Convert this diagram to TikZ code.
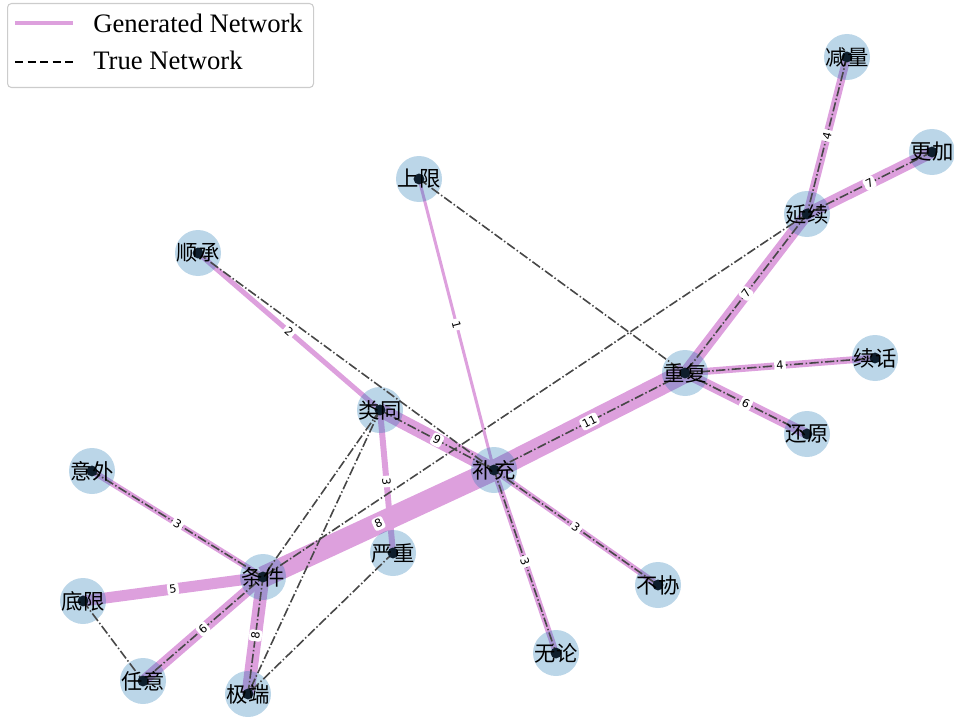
\documentclass[tikz,border=0pt]{standalone}
\usepackage{fontspec}
\setmainfont{Liberation Serif}
\newfontfamily\cjkfont{Noto Sans CJK SC}
\newfontfamily\labfont{DejaVu Sans}
\usepackage{xcolor}

\definecolor{genpink}{RGB}{221,160,221}
\definecolor{nodeblue}{RGB}{31,119,180}
\definecolor{dotnavy}{RGB}{14,30,44}

\tikzset{
  gen/.style={genpink},
  truenet/.style={black!72, line width=1.2pt, dash pattern=on 7pt off 1.8pt on 1.1pt off 1.8pt},
  bubble/.style={circle, minimum size=34.5pt, inner sep=0pt, fill=nodeblue, fill opacity=0.3},
  word/.style={font=\cjkfont\fontsize{16}{18}\selectfont, inner sep=0pt},
  wlabel/.style={fill=white, rounded corners=2pt, inner sep=1.6pt, sloped,
                 font=\labfont\fontsize{8.5}{9}\selectfont}
}

% generated network: from/to/width/weight
\newcommand\genlist{jianliang/yanxu/6pt/4, gengjia/yanxu/9pt/7, yanxu/chongfu/9pt/7,
  chongfu/xuhua/5.25pt/4, chongfu/huanyuan/7.5pt/6, chongfu/buchong/15pt/11,
  shangxian/buchong/2.25pt/1, shuncheng/leitong/3.75pt/2, leitong/buchong/10.5pt/9,
  leitong/yanzhong/4.5pt/3, buchong/tiaojian/16pt/8, buchong/wulun/4.5pt/3,
  buchong/buxie/4.5pt/3, yiwai/tiaojian/4.5pt/3, dixian/tiaojian/8.25pt/5,
  renyi/tiaojian/8.25pt/6, jiduan/tiaojian/9.75pt/8}

\begin{document}
\begin{tikzpicture}[x=0.75pt, y=-0.75pt]
    \useasboundingbox (0,0) rectangle (954,717);
    \foreach \n/\x/\y in {jianliang/847/57, gengjia/932/152, yanxu/807/214, shangxian/419/179,
                          shuncheng/198/253, chongfu/685/373, xuhua/875/358, huanyuan/807/434,
                          leitong/380/410, buchong/494/470, yiwai/92/471, tiaojian/263/577,
                          yanzhong/393/553, dixian/83/601, renyi/143/681, jiduan/248/694,
                          wulun/556/653, buxie/658/585}
      \coordinate (\n) at (\x,\y);
    \foreach \a/\b/\lw/\k in \genlist
      \draw[gen, line width=\lw] (\a) -- (\b);
    \foreach \n in {jianliang, gengjia, yanxu, shangxian, shuncheng, chongfu, xuhua, huanyuan,
                    leitong, buchong, yiwai, tiaojian, yanzhong, dixian, renyi, jiduan, wulun, buxie}
      \node[bubble] (\n-b) at (\n) {};
    \foreach \a/\b in {jianliang/yanxu, gengjia/yanxu, yanxu/chongfu, yanxu/tiaojian,
                       shangxian/chongfu, shuncheng/buchong, leitong/buchong, chongfu/xuhua,
                       chongfu/huanyuan, chongfu/buchong, buchong/wulun, buchong/buxie,
                       leitong/tiaojian, leitong/jiduan, yanzhong/jiduan, yiwai/tiaojian,
                       renyi/tiaojian, jiduan/tiaojian, dixian/renyi}
      \draw[truenet] (\a) -- (\b);
    \foreach \n/\t in {jianliang/减量, gengjia/更加, yanxu/延续, shangxian/上限, shuncheng/顺承,
                       chongfu/重复, xuhua/续话, huanyuan/还原, leitong/类同, buchong/补充,
                       yiwai/意外, tiaojian/条件, yanzhong/严重, dixian/底限, renyi/任意,
                       jiduan/极端, wulun/无论, buxie/不协}
      {\fill[dotnavy] (\n) circle (4.1pt);
       \node[word] (\n-t) at (\n) {\t};}
    \foreach \a/\b/\lw/\k in \genlist
      \path (\a) -- (\b) node[midway, wlabel] (\a-\b-w) {\k};
    % legend
    \node[draw=black!20, fill=white, rounded corners=3pt, line width=0.8pt, inner sep=0pt,
          minimum width=229.5pt, minimum height=63pt, anchor=north west] (legend) at (7,3) {};
    \coordinate (g1) at (15,23);
    \coordinate (g2) at (73,23);
    \coordinate (t1) at (15,62);
    \coordinate (t2) at (73,62);
    \draw[gen, line width=2.4pt] (g1) -- (g2);
    \draw[black, line width=1.1pt, dash pattern=on 6pt off 3.4pt] (t1) -- (t2);
    \node[anchor=base west, inner sep=0pt, font=\fontsize{20}{22}\selectfont] (gtext) at (93,33) {Generated Network};
    \node[anchor=base west, inner sep=0pt, font=\fontsize{20}{22}\selectfont] (ttext) at (93,70) {True Network};
\end{tikzpicture}
\end{document}
